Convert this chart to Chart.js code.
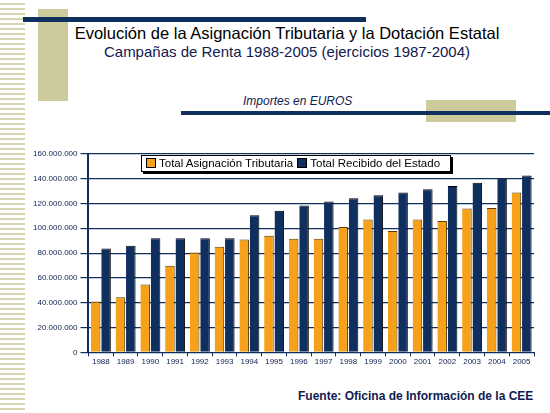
<!DOCTYPE html>
<html><head><meta charset="utf-8">
<script src="https://cdn.jsdelivr.net/npm/chart.js"></script>
<style>
body{margin:0;width:550px;height:413px;position:relative;background:#fff;font-family:"Liberation Sans",Arial,sans-serif;overflow:hidden}
.stripes{position:absolute;left:0;top:0;width:25px;height:413px;background:repeating-linear-gradient(to bottom,#fff 0,#fff 3px,#d8d6b0 3px,#d8d6b0 5px)}
.abs{position:absolute}
.sw{display:inline-block;width:8px;height:8px;border:1px solid #000;margin:0 3px 0 4px;vertical-align:-1px}
</style></head><body>
<div class="stripes"></div>
<div class="abs" style="left:38px;top:9px;width:30px;height:92px;background:#cdcb9b"></div>
<div class="abs" style="left:23px;top:17px;width:343px;height:5px;background:#0f2f5f"></div>
<div class="abs" style="left:426px;top:100px;width:90px;height:22px;background:#cdcb9b"></div>
<div class="abs" style="left:181px;top:111px;width:369px;height:4px;background:#0f2f5f"></div>
<div class="abs" style="left:0;top:24px;width:550px;text-align:center;padding-left:24px;box-sizing:border-box;color:#000;font-size:16.5px;line-height:18px">Evolución de la Asignación Tributaria y la Dotación Estatal<br><span style="font-size:15px;color:#0f2050">Campañas de Renta 1988-2005 (ejercicios 1987-2004)</span></div>
<div class="abs" style="left:243px;top:94px;font-size:12px;font-style:italic;color:#0f2050">Importes en EUROS</div>
<div class="abs" style="left:298px;top:389px;font-size:12px;font-weight:bold;color:#0f2050">Fuente: Oficina de Información de la CEE</div>
<div class="abs" style="left:30px;top:146px;width:512px;height:222px"><canvas id="c"></canvas></div>
<div class="abs" style="left:141px;top:155px;width:308px;height:15px;border:1px solid #000;background:#fff;box-shadow:2px 2px 0 #000;font-size:11.5px;line-height:15px;color:#000;white-space:nowrap"><span class="sw" style="background:#f7a11a"></span>Total Asignación Tributaria<span class="sw" style="background:#0f2f5f"></span>Total Recibido del Estado</div>
<script>
const categories=["1988","1989","1990","1991","1992","1993","1994","1995","1996","1997","1998","1999","2000","2001","2002","2003","2004","2005"];
const asignacion=[41e6,44.4e6,54.8e6,69.9e6,80.5e6,85.2e6,91e6,94e6,91.5e6,91.5e6,101e6,107e6,97.8e6,107e6,105.8e6,116e6,116.4e6,128.8e6];
const recibido=[83.8e6,86e6,92e6,92e6,92e6,92e6,110.4e6,114.2e6,118.4e6,121.6e6,124.1e6,126.6e6,128.8e6,131.5e6,134e6,136.7e6,140e6,142.5e6];
Chart.defaults.font.family='"Liberation Sans",Arial,sans-serif';
new Chart(document.getElementById('c'),{type:'bar',
data:{labels:categories,datasets:[
{label:'Total Asignación Tributaria',data:asignacion,backgroundColor:'#f7a11a',borderColor:'#5a3a00',borderWidth:{left:0,right:1,top:1,bottom:0},categoryPercentage:0.84,barPercentage:0.92},
{label:'Total Recibido del Estado',data:recibido,backgroundColor:'#0f2f5f',borderColor:'#000',borderWidth:{left:0,right:1,top:1,bottom:0},categoryPercentage:0.84,barPercentage:0.92}]},
options:{responsive:true,maintainAspectRatio:false,animation:false,
layout:{padding:{top:3,right:8}},
plugins:{legend:{display:false},tooltip:{enabled:false}},
scales:{x:{grid:{display:true,drawOnChartArea:false,color:'#0f2f5f',tickLength:4},border:{color:'#0f2f5f'},ticks:{font:{size:8},color:'#0f2050',maxRotation:0,minRotation:0,autoSkip:false,padding:1}},
y:{min:0,max:160e6,ticks:{stepSize:20e6,font:{size:8},color:'#0f2050',callback:v=>v.toLocaleString('de-DE')},grid:{color:'#0f2f5f',lineWidth:1.2},border:{color:'#0f2f5f',width:2}}}}
});
</script>
</body></html>
